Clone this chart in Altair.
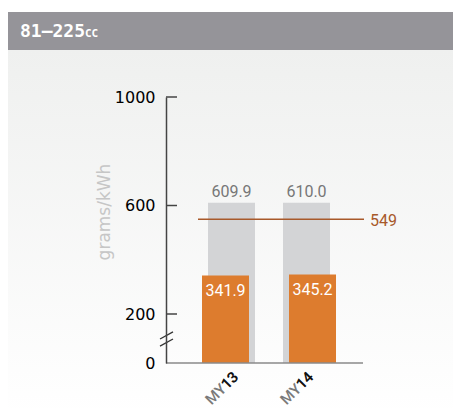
import altair as alt
import pandas as pd

# ---- data ----
years = ["MY13", "MY14"]
total_values = [609.9, 610.0]      # grey bars
engine_values = [341.9, 345.2]     # orange bars
limit_value = [549]
tick_values = [200, 600, 1000]
axis_values = [0, 200, 600, 1000]
break_lo = [69, 98]
break_hi = [98, 127]
header_main = "81–225"
header_small = "CC"
y_title = "grams/kWh"

df = pd.DataFrame({"year": years, "total": total_values, "engine": engine_values})
lim_df = pd.DataFrame({"limit": limit_value})
tick_df = pd.DataFrame({"v": tick_values})
brk_df = pd.DataFrame({"lo": break_lo, "hi": break_hi})
one = alt.Data(values=[{}])

FONT = "Roboto"
GREY_BAR = "#d3d4d6"
ORANGE = "#dd7c2e"
LIMIT_C = "#a8592a"

yscale = alt.Scale(domain=[0, 200, 1000], range=[266, 217, 0], nice=False, zero=False)
yaxis = alt.Axis(values=axis_values, title=None, ticks=False, labelPadding=11, format="d",
                 labelFont="DejaVu Sans", labelFontSize=16, labelFontWeight="normal", labelColor="#000000",
                 domainColor="#444444", domainWidth=1.5, grid=False, zindex=1)
gscale = alt.Scale(type="band", domain=years, range=[42, 164], paddingInner=0.3733, paddingOuter=0)
oscale = alt.Scale(type="band", domain=years, range=[36, 170], paddingInner=0.4598, paddingOuter=0)

def Y(field):
    return alt.Y(field, scale=yscale, axis=yaxis)

bg = alt.Chart(one).mark_rect(
    fill=alt.Gradient(gradient="linear",
                      stops=[alt.GradientStop(color="#eff0ef", offset=0),
                             alt.GradientStop(color="#ffffff", offset=1)],
                      x1=0, x2=0, y1=0, y2=1)
).encode(x=alt.value(-159), x2=alt.value(300), y=alt.value(-47), y2=alt.value(320))

header = alt.Chart(one).mark_rect(fill="#959499").encode(
    x=alt.value(-159), x2=alt.value(300), y=alt.value(-85), y2=alt.value(-47))

htext = alt.Chart(one).mark_text(text=header_main, font="DejaVu Sans Mono", fontWeight="bold",
                                 fontSize=18, color="white", align="left", baseline="alphabetic").encode(
    x=alt.value(-146), y=alt.value(-60))
htext2 = alt.Chart(one).mark_text(text=header_small, font="DejaVu Sans Mono", fontWeight="bold",
                                  fontSize=11, color="white", align="left", baseline="alphabetic").encode(
    x=alt.value(-81), y=alt.value(-60))

grey = alt.Chart(df).mark_bar(color=GREY_BAR).encode(
    x=alt.X("year:N", scale=gscale, axis=None), y=Y("total:Q"))
grey_lbl = alt.Chart(df).mark_text(font=FONT, fontSize=16, color="#777777", baseline="alphabetic", dy=-6).encode(
    x=alt.X("year:N", scale=gscale, axis=None), y=Y("total:Q"), text=alt.Text("total:Q", format=".1f"))

limit = alt.Chart(lim_df).mark_rule(color=LIMIT_C, strokeWidth=1.5).encode(
    y=Y("limit:Q"), x=alt.value(32), x2=alt.value(198))
limit_lbl = alt.Chart(lim_df).mark_text(font=FONT, fontSize=16, color=LIMIT_C, align="left",
                                        baseline="alphabetic", dy=7).encode(
    y=Y("limit:Q"), x=alt.value(204), text=alt.Text("limit:Q"))

orange = alt.Chart(df).mark_bar(color=ORANGE).encode(
    x=alt.X("year:N", scale=oscale, axis=None), y=Y("engine:Q"))
orange_lbl = alt.Chart(df).mark_text(font=FONT, fontSize=16, color="white", baseline="alphabetic", dy=20).encode(
    x=alt.X("year:N", scale=oscale, axis=None), y=Y("engine:Q"), text=alt.Text("engine:Q", format=".1f"))

ytitle = alt.Chart(one).mark_text(text=y_title, font="DejaVu Sans", fontSize=17, color="#c6c6c6", angle=270,
                                  align="center", baseline="middle").encode(
    x=alt.value(-61), y=alt.value(115))

xl_grey = alt.Chart(df).transform_calculate(zero="0").mark_text(
    font=FONT, fontSize=15, fontWeight=500, color="#7a7a7a", angle=315, align="right", baseline="top",
    dx=-5, dy=4).encode(
    x=alt.X("year:N", scale=gscale, axis=None), y=Y("zero:Q"), text="year:N")
xl_black = alt.Chart(df).transform_calculate(zero="0", num="substring(datum.year, 2)").mark_text(
    font=FONT, fontSize=15, fontWeight=500, color="#111111", angle=315, align="right", baseline="top",
    dx=-5, dy=4).encode(
    x=alt.X("year:N", scale=gscale, axis=None), y=Y("zero:Q"), text="num:N")

ticks = alt.Chart(tick_df).mark_rule(color="#444444", strokeWidth=1.5).encode(
    y=Y("v:Q"), x=alt.value(0), x2=alt.value(11))

xline = alt.Chart(one).transform_calculate(zero="0").mark_rule(color="#8a8a8a", strokeWidth=1.5).encode(
    y=Y("zero:Q"), x=alt.value(0), x2=alt.value(197))

breaks = alt.Chart(brk_df).mark_rule(color="#333333", strokeWidth=1.3).encode(
    y=Y("lo:Q"), y2="hi:Q", x=alt.value(-6), x2=alt.value(7))

chart = alt.layer(
    bg, header, htext, htext2, grey, grey_lbl, limit, limit_lbl, orange, orange_lbl,
    ytitle, xl_grey, xl_black, ticks, xline, breaks
).resolve_scale(x="independent").properties(
    width=197, height=266,
    autosize="none",
    padding={"left": 158, "top": 89, "right": 90, "bottom": 45},
    background="white",
).configure_view(stroke=None)

chart.save("out.html", embed_options={"renderer": "svg", "actions": False})
